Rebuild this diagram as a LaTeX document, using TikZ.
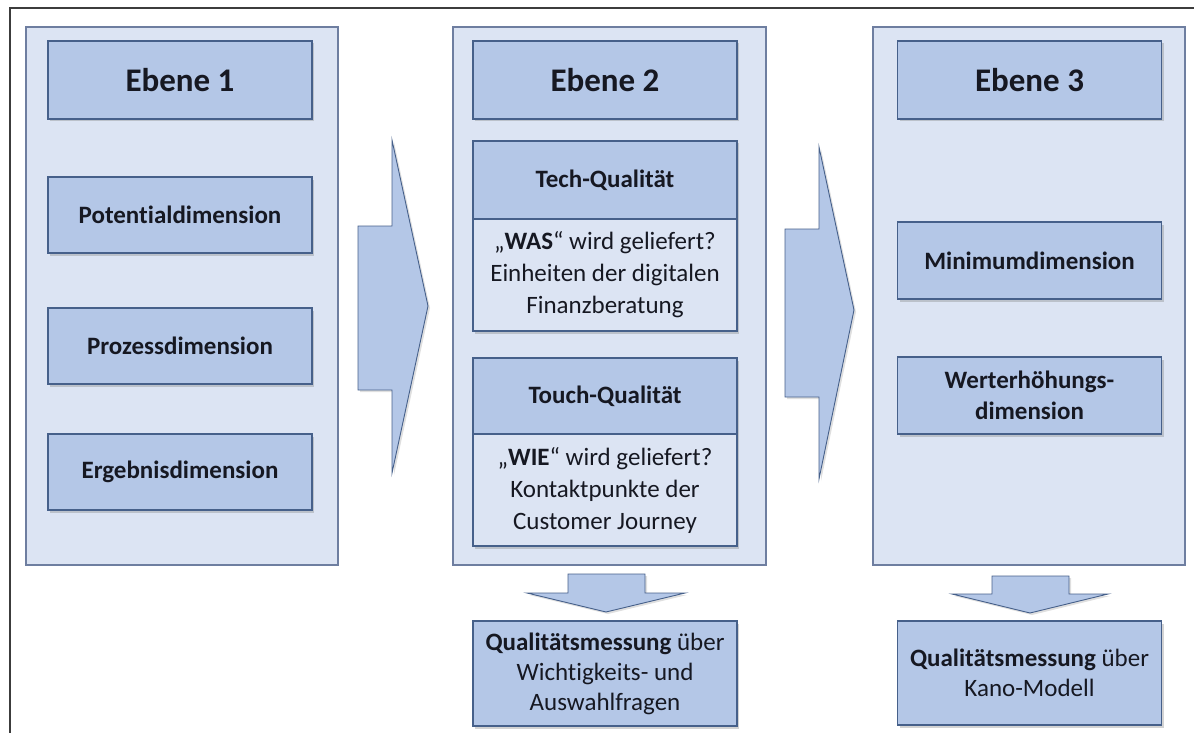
\documentclass[tikz,border=0pt]{standalone}
\usepackage{fontspec}
\setmainfont[Ligatures=NoCommon]{Carlito}
\usetikzlibrary{shadows,positioning}

\definecolor{panelfill}{RGB}{220,228,243}
\definecolor{panelline}{RGB}{110,126,160}
\definecolor{boxfill}{RGB}{180,199,231}
\definecolor{boxline}{RGB}{70,96,138}
\definecolor{textcol}{RGB}{22,24,34}
\definecolor{framecol}{RGB}{60,60,60}

\tikzset{
  panel/.style={draw=panelline, fill=panelfill, line width=1.2pt, inner sep=0pt,
    minimum width=312pt, minimum height=538pt},
  boxshadow/.style={drop shadow={shadow xshift=2pt, shadow yshift=-2.5pt, opacity=.35}},
  levelbox/.style={draw=boxline, fill=boxfill, line width=1.2pt, inner sep=0pt, boxshadow,
    text=textcol, minimum width=264pt, minimum height=78pt, align=center,
    font=\fontsize{33}{38}\selectfont\bfseries},
  dimbox/.style={levelbox, minimum height=76pt, font=\fontsize{25}{30}\selectfont\bfseries},
  textbox/.style={levelbox, fill=panelfill, minimum height=112pt,
    font=\fontsize{25}{32}\selectfont},
  resultbox/.style={levelbox, minimum height=105pt, font=\fontsize{25}{30}\selectfont},
  blockarrow/.style={draw=boxline, fill=boxfill, line width=.9pt, line join=miter,
    drop shadow={shadow xshift=2pt, shadow yshift=-2pt, opacity=.25}}
}

\begin{document}
\begin{tikzpicture}[x=1pt, y=-1pt]
  \useasboundingbox (0,0) rectangle (1194,733);
  % frame
  \draw[framecol, line width=1.4pt] (10,733) -- (10,8) -- (1194,8);

  % panels
  \node[panel] (p1) at (182,296) {};
  \node[panel, minimum width=313pt] (p2) at (609.5,296) {};
  \node[panel] (p3) at (1029,296) {};

  % Ebene 1
  \node[levelbox] (e1) at (180,80) {Ebene 1};
  \node[dimbox] (pot) at (180,215) {Potentialdimension};
  \node[dimbox] (proz) at (180,346) {Prozessdimension};
  \node[dimbox] (erg) at (180,472) {Ergebnisdimension};

  % Ebene 2
  \node[levelbox] (e2) at (605,80) {Ebene 2};
  \node[dimbox, minimum height=78pt] (tech) at (605,180) {Tech-Qualität};
  \node[textbox] (techtxt) at (605,275) {„\textbf{WAS}“ wird geliefert?\\Einheiten der digitalen\\Finanzberatung};
  \node[dimbox] (touch) at (605,396) {Touch-Qualität};
  \node[textbox] (touchtxt) at (605,490) {„\textbf{WIE}“ wird geliefert?\\Kontaktpunkte der\\Customer Journey};

  % Ebene 3
  \node[levelbox] (e3) at (1029.5,80) {Ebene 3};
  \node[dimbox, minimum height=77pt] (mini) at (1029.5,260.5) {Minimumdimension};
  \node[dimbox, minimum height=77pt, font=\fontsize{25}{31}\selectfont\bfseries] (wert) at (1029.5,395.5) {Werterhöhungs-\\dimension};

  % Messung
  \node[resultbox] (mess2) at (605,673.5) {\textbf{Qualitätsmessung} über\\Wichtigkeits- und\\Auswahlfragen};
  \node[resultbox, minimum height=104pt] (mess3) at (1029.5,673) {\textbf{Qualitätsmessung} über\\Kano-Modell};

  % arrows
  \draw[blockarrow] (358,226) -- (392,226) -- (392,140) -- (428,306) -- (392,473) -- (392,390) -- (358,390) -- cycle;
  \draw[blockarrow] (785,229) -- (819,229) -- (819,147) -- (854,310) -- (819,479) -- (819,397) -- (785,397) -- cycle;
  \draw[blockarrow] (568,574) -- (645,574) -- (645,593) -- (685,593) -- (606,612) -- (527,593) -- (568,593) -- cycle;
  \draw[blockarrow] (992,576) -- (1069,576) -- (1069,594) -- (1108,594) -- (1030,613) -- (952,594) -- (992,594) -- cycle;
\end{tikzpicture}
\end{document}
